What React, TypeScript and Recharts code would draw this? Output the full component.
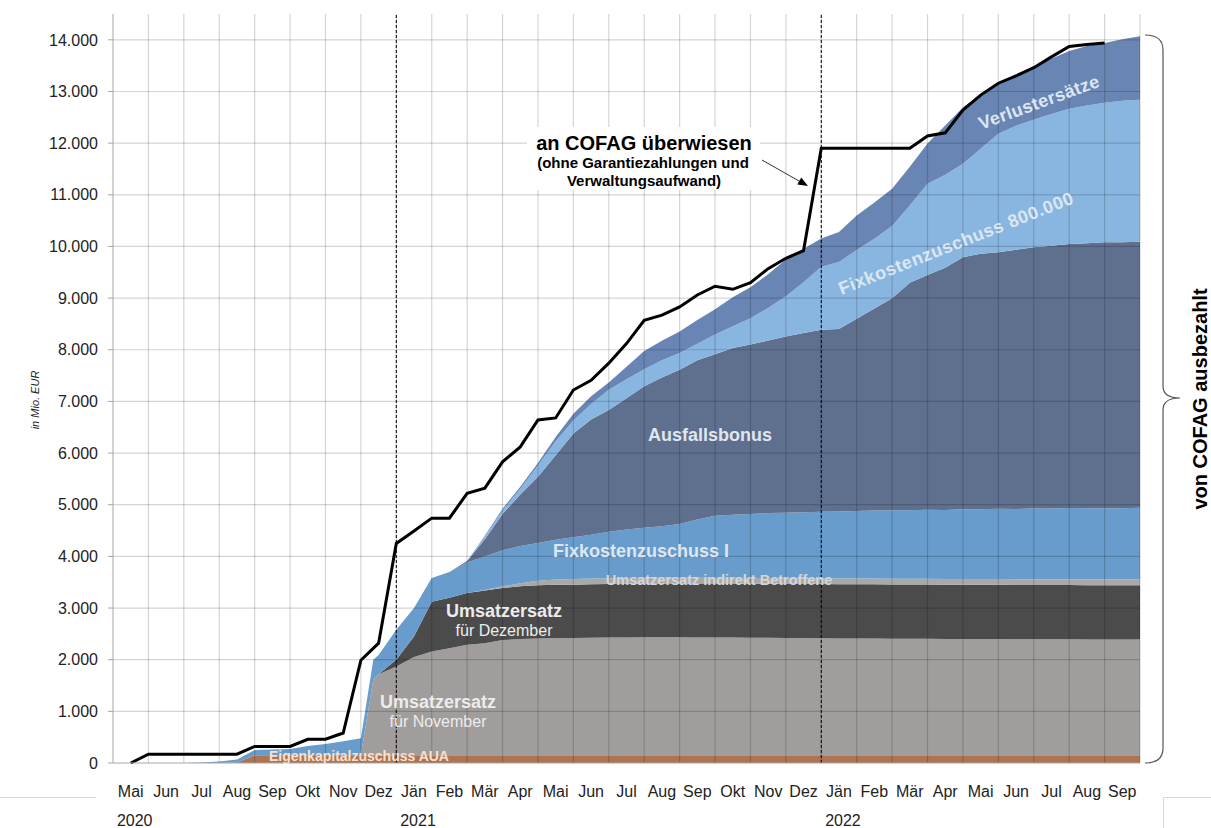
import React from "react";
import { ComposedChart, Area, Line, XAxis, YAxis, ReferenceLine } from "recharts";

// x position = months since 1 May 2020
const months = [
  2, 2.5, 3, 3.5, 4, 4.5, 5, 5.5, 6, 6.5, 7, 7.35, 7.5, 8, 8.5, 9, 9.5, 10, 10.5, 11,
  11.5, 12, 12.5, 13, 13.5, 14, 14.5, 15, 15.5, 16, 16.5, 17, 17.5, 18, 18.5, 19, 19.5,
  20, 20.5, 21, 21.5, 22, 22.5, 23, 23.5, 24, 24.5, 25, 25.5, 26, 26.5, 27, 27.5, 28,
  28.5, 29,
];

// values in Mio. EUR
const aua = [
  0, 0, 0, 10, 150, 150, 150, 150, 150, 150, 150, 150, 150, 150, 150, 150, 150, 150, 150,
  150, 150, 150, 150, 150, 150, 150, 150, 150, 150, 150, 150, 150, 150, 150, 150, 150, 150,
  150, 150, 150, 150, 150, 150, 150, 150, 150, 150, 150, 150, 150, 150, 150, 150, 150, 150,
  150,
];
const umsatzNovember = [
  0, 0, 0, 0, 0, 0, 0, 0, 0, 0, 0, 1470, 1570, 1720, 1900, 2010, 2070, 2140, 2170, 2230,
  2250, 2260, 2270, 2270, 2275, 2280, 2280, 2285, 2285, 2285, 2280, 2280, 2280, 2275, 2275,
  2270, 2270, 2265, 2260, 2260, 2260, 2255, 2255, 2255, 2250, 2250, 2250, 2250, 2245, 2245,
  2245, 2245, 2240, 2240, 2240, 2240,
];
const umsatzDezember = [
  0, 0, 0, 0, 0, 0, 0, 0, 0, 0, 0, 0, 0, 130, 400, 960, 980, 1000, 1020, 1010, 1020, 1030,
  1030, 1030, 1035, 1035, 1040, 1040, 1040, 1040, 1045, 1045, 1045, 1045, 1045, 1045, 1045,
  1050, 1050, 1050, 1050, 1050, 1050, 1050, 1050, 1050, 1050, 1050, 1050, 1050, 1050, 1050,
  1050, 1050, 1050, 1050,
];
const umsatzIndirekt = [
  0, 0, 0, 0, 0, 0, 0, 0, 0, 0, 0, 0, 0, 0, 0, 0, 0, 0, 10, 30, 60, 90, 100, 110, 110, 110,
  110, 110, 110, 110, 110, 110, 110, 110, 110, 110, 110, 110, 110, 110, 110, 110, 110, 110,
  110, 110, 110, 110, 110, 110, 110, 110, 110, 110, 110, 110,
];
const fixkosten1 = [
  0, 10, 30, 60, 100, 110, 120, 180, 220, 270, 330, 380, 370, 580, 550, 460, 500, 590, 650,
  700, 720, 730, 770, 810, 850, 900, 940, 970, 1000, 1040, 1130, 1200, 1220, 1240, 1260,
  1270, 1280, 1290, 1300, 1310, 1320, 1330, 1330, 1340, 1340, 1350, 1350, 1360, 1360, 1370,
  1370, 1380, 1380, 1380, 1380, 1390,
];
const ausfallsbonus = [
  0, 0, 0, 0, 0, 0, 0, 0, 0, 0, 0, 0, 0, 0, 0, 0, 0, 30, 330, 700, 1000, 1280, 1640, 2010,
  2230, 2360, 2540, 2740, 2880, 2990, 3080, 3130, 3230, 3280, 3340, 3410, 3470, 3520, 3530,
  3720, 3910, 4100, 4400, 4540, 4690, 4880, 4950, 4970, 5020, 5060, 5090, 5110, 5130, 5150,
  5150, 5150,
];
const fixkosten800 = [
  0, 0, 0, 0, 0, 0, 0, 0, 0, 0, 0, 0, 0, 0, 0, 0, 0, 0, 50, 70, 110, 220, 270, 250, 300,
  390, 370, 330, 330, 320, 320, 380, 420, 510, 630, 780, 980, 1220, 1300, 1330, 1350, 1400,
  1500, 1770, 1800, 1810, 2030, 2290, 2400, 2470, 2550, 2620, 2670, 2700, 2740, 2750,
];
const verlustersatz = [
  0, 0, 0, 0, 0, 0, 0, 0, 0, 0, 0, 0, 0, 0, 0, 0, 0, 0, 20, 30, 40, 50, 80, 130, 150, 140,
  240, 350, 380, 420, 460, 490, 560, 600, 650, 710, 650, 550, 580, 670, 700, 720, 750, 780,
  950, 1090, 1050, 980, 1000, 1030, 1070, 1120, 1150, 1160, 1190, 1230,
];

const cofagMonths = [
  0.5, 1, 1.5, 2, 2.5, 3, 3.5, 4, 4.5, 5, 5.5, 6, 6.5, 7, 7.5, 8, 8.5, 9, 9.5, 10, 10.5,
  11, 11.5, 12, 12.5, 13, 13.5, 14, 14.5, 15, 15.5, 16, 16.5, 17, 17.5, 18, 18.5, 19, 19.5,
  20, 20.5, 21, 21.5, 22, 22.5, 23, 23.5, 24, 24.5, 25, 25.5, 26, 26.5, 27, 27.5, 28,
];
const cofagValues = [
  0, 170, 170, 170, 170, 170, 170, 320, 320, 320, 460, 460, 580, 1990, 2320, 4250, 4490,
  4740, 4740, 5220, 5320, 5830, 6120, 6640, 6680, 7220, 7410, 7740, 8120, 8570, 8670, 8830,
  9060, 9230, 9170, 9300, 9570, 9770, 9920, 11900, 11900, 11900, 11900, 11900, 11900, 12140,
  12200, 12640, 12930, 13160, 13300, 13460, 13670, 13870, 13910, 13940,
];

const monthLabels = [
  "Mai", "Jun", "Jul", "Aug", "Sep", "Okt", "Nov", "Dez",
  "Jän", "Feb", "Mär", "Apr", "Mai", "Jun", "Jul", "Aug", "Sep", "Okt", "Nov", "Dez",
  "Jän", "Feb", "Mär", "Apr", "Mai", "Jun", "Jul", "Aug", "Sep",
];
const yearLabels: Record<number, string> = { 0: "2020", 8: "2021", 20: "2022" };
const yTicks = [0, 1000, 2000, 3000, 4000, 5000, 6000, 7000, 8000, 9000, 10000, 11000, 12000, 13000, 14000];
const yearStarts = [8, 20];

const FONT = "'Liberation Sans', Arial, sans-serif";

const data = months.map((t, i) => ({
  t,
  aua: aua[i],
  nov: umsatzNovember[i],
  dez: umsatzDezember[i],
  ind: umsatzIndirekt[i],
  fkz1: fixkosten1[i],
  ab: ausfallsbonus[i],
  fkz800: fixkosten800[i],
  vl: verlustersatz[i],
}));
const cofagData = cofagMonths.map((t, i) => ({ t, cofag: cofagValues[i] }));

const series = [
  { key: "aua", color: "#ae7452" },
  { key: "nov", color: "#a19d9c" },
  { key: "dez", color: "#4b4b4b" },
  { key: "ind", color: "#a9a9a9" },
  { key: "fkz1", color: "#679ccc" },
  { key: "ab", color: "#5f6f8e" },
  { key: "fkz800", color: "#89b6e0" },
  { key: "vl", color: "#6985b4" },
];

const fmt = (v: number) => String(v).replace(/\B(?=(\d{3})+(?!\d))/g, ".");

function MonthTick(props: any) {
  const { x, y, payload } = props;
  const i = Math.floor(payload.value);
  const year = yearLabels[i];
  return (
    <g>
      <text x={x} y={y + 34} textAnchor="middle" fontSize={16} fill="#222" fontFamily={FONT}>
        {monthLabels[i]}
      </text>
      {year && (
        <text x={x + 4} y={y + 63} textAnchor="middle" fontSize={16} fill="#222" fontFamily={FONT}>
          {year}
        </text>
      )}
    </g>
  );
}

const gridX = monthLabels.map((_, i) => i + 1);

export default function App() {
  const lbl = { fontFamily: FONT, fontWeight: 700 } as const;
  return (
    <div style={{ position: "absolute", left: 0, top: 0, width: 1211, height: 828, background: "#fff", fontFamily: FONT }}>
      <ComposedChart width={1211} height={828} data={data} margin={{ top: 14, right: 71, bottom: 0, left: 0 }}>
        <XAxis
          dataKey="t"
          type="number"
          domain={[0, 29]}
          ticks={monthLabels.map((_, i) => i + 0.5)}
          tick={<MonthTick />}
          tickLine={false}
          tickSize={0}
          tickMargin={0}
          interval={0}
          height={65}
          axisLine={{ stroke: "#a6a6a6" }}
          allowDataOverflow
        />
        <YAxis
          type="number"
          domain={[0, 14500]}
          ticks={yTicks}
          width={113}
          tickFormatter={fmt}
          tickSize={5}
          tickMargin={10}
          tickLine={{ stroke: "#a6a6a6" }}
          axisLine={{ stroke: "#a6a6a6" }}
          tick={{ fontSize: 16, fill: "#222", fontFamily: FONT }}
        />
        {series.map((s) => (
          <Area
            key={s.key}
            dataKey={s.key}
            stackId="1"
            type="linear"
            stroke="none"
            fill={s.color}
            fillOpacity={1}
            isAnimationActive={false}
            dot={false}
            activeDot={false}
          />
        ))}
        {gridX.map((m) => (
          <ReferenceLine key={"gx" + m} x={m} stroke="rgba(0,0,0,0.17)" strokeWidth={1.2} />
        ))}
        {yTicks.slice(1).map((v) => (
          <ReferenceLine key={"gy" + v} y={v} stroke="rgba(0,0,0,0.17)" strokeWidth={1.2} />
        ))}
        {yearStarts.map((m) => (
          <ReferenceLine key={"yr" + m} x={m} stroke="#000" strokeWidth={1} strokeDasharray="3 2" />
        ))}
        <Line
          data={cofagData}
          dataKey="cofag"
          type="linear"
          stroke="#000"
          strokeWidth={3}
          dot={false}
          activeDot={false}
          isAnimationActive={false}
        />
      </ComposedChart>

      <svg width={1211} height={828} style={{ position: "absolute", left: 0, top: 0, pointerEvents: "none" }}>
        {/* labels on the areas */}
        <text x={359} y={761} textAnchor="middle" fontSize={14} fill="#fbe0cc" {...lbl}>Eigenkapitalzuschuss AUA</text>
        <text x={438} y={708} textAnchor="middle" fontSize={18} fill="#ececec" {...lbl}>Umsatzersatz</text>
        <text x={438} y={727} textAnchor="middle" fontSize={16} fill="#ececec" fontFamily={FONT}>für November</text>
        <text x={504} y={617} textAnchor="middle" fontSize={18} fill="#ececec" {...lbl}>Umsatzersatz</text>
        <text x={504} y={636} textAnchor="middle" fontSize={16} fill="#ececec" fontFamily={FONT}>für Dezember</text>
        <text x={719} y={585} textAnchor="middle" fontSize={14.5} fill="#d6d6d6" {...lbl}>Umsatzersatz indirekt Betroffene</text>
        <text x={641} y={557} textAnchor="middle" fontSize={18} fill="#dfe6ef" {...lbl}>Fixkostenzuschuss I</text>
        <text x={710} y={441} textAnchor="middle" fontSize={18} fill="#dfe6ef" {...lbl}>Ausfallsbonus</text>
        <text x={956} y={243} dy="0.35em" textAnchor="middle" fontSize={18} letterSpacing={0.6} fill="#dce6f1" transform="rotate(-21.5 956 243)" {...lbl}>Fixkostenzuschuss 800.000</text>
        <text x={1039} y={102} dy="0.35em" textAnchor="middle" fontSize={18} letterSpacing={0.4} fill="#dce6f1" transform="rotate(-20 1039 102)" {...lbl}>Verlustersätze</text>

        {/* COFAG annotation */}
        <rect x={527} y={127} width={233} height={63} fill="#fff" />
        <text x={644} y={150} textAnchor="middle" fontSize={20} fill="#000" {...lbl}>an COFAG überwiesen</text>
        <text x={643} y={168} textAnchor="middle" fontSize={15} fill="#000" {...lbl}>(ohne Garantiezahlungen und</text>
        <text x={644} y={186} textAnchor="middle" fontSize={15} fill="#000" {...lbl}>Verwaltungsaufwand)</text>
        <line x1={762} y1={160} x2={800} y2={181.6} stroke="#333" strokeWidth={1} />
        <polygon points="808,186 797.3,184.6 801.3,177.6" fill="#000" />

        {/* axis title */}
        <text x={39} y={400} textAnchor="middle" fontSize={11} fontStyle="italic" fill="#222" fontFamily={FONT} transform="rotate(-90 39 400)">in Mio. EUR</text>

        {/* brace */}
        <path d="M1145,35 Q1163,35 1163,50 L1163,386 Q1163,398 1180,398 Q1163,398 1163,410 L1163,748 Q1163,763 1145,763" fill="none" stroke="#555" strokeWidth={1.2} />
        <text x={1207} y={399} textAnchor="middle" fontSize={20} fill="#000" transform="rotate(-90 1207 399)" {...lbl}>von COFAG ausbezahlt</text>

        {/* frame remnants */}
        <line x1={0} y1={797.5} x2={96} y2={797.5} stroke="#d9d9d9" />
        <line x1={1163} y1={797.5} x2={1211} y2={797.5} stroke="#d9d9d9" />
        <line x1={1163.5} y1={797} x2={1163.5} y2={828} stroke="#d9d9d9" />
      </svg>
    </div>
  );
}
